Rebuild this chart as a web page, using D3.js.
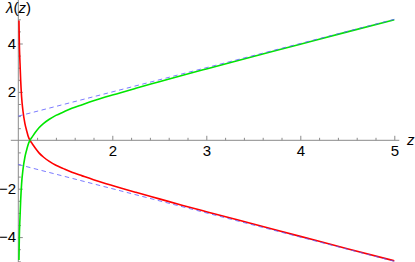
<!DOCTYPE html>
<html>
<head>
  <meta charset="utf-8">
  <title>lambda(z)</title>
  <style>
    body { margin: 0; background: white; }
    svg { display: block; font-family: "Liberation Sans", Arial, sans-serif; }
    .axis path { display: none; }
    .axis line { stroke: #8a8a8a; }
    .axis text { font-size: 15px; fill: black; }
    .curve { fill: none; stroke-width: 1.6; }
    .asym { fill: none; stroke: #5a5aff; stroke-width: 1; stroke-dasharray: 4.5,3.5; stroke-opacity: 0.8; }
  </style>
  <script src="https://d3js.org/d3.v7.min.js"></script>
</head>
<body>
  <div id="chart"></div>
  <script>
    // values
    const zValues = [1.007, 1.011, 1.018, 1.025, 1.035, 1.05, 1.07, 1.09, 1.105, 1.124,
                     1.15, 1.18, 1.22, 1.27, 1.33, 1.40, 1.48, 1.57, 1.68, 1.80,
                     2.0, 2.25, 2.5, 2.75, 3.0, 3.5, 4.0, 4.5, 5.0];
    const greenValues = [-4.95, -4.0, -3.2, -2.5, -1.8, -1.2, -0.7, -0.38, -0.17, 0,
                         0.15, 0.32, 0.52, 0.70, 0.87, 1.03, 1.17, 1.32, 1.47, 1.63,
                         1.87, 2.15, 2.42, 2.69, 2.95, 3.46, 3.97, 4.48, 4.98];
    const redValues = [4.95, 4.0, 3.2, 2.5, 1.8, 1.2, 0.7, 0.38, 0.17, 0,
                       -0.15, -0.32, -0.52, -0.70, -0.87, -1.03, -1.17, -1.32, -1.47, -1.63,
                       -1.87, -2.15, -2.42, -2.69, -2.95, -3.46, -3.97, -4.48, -4.98];
    const asymZ = [1, 5];
    const asymUpper = [1, 5];
    const asymLower = [-1, -5];
    const xTicks = [2, 3, 4, 5];
    const yTicks = [-4, -2, 2, 4];

    const width = 415;
    const height = 262;

    const x = d3.scaleLinear().domain([1, 5]).range([18.3, 394.3]);
    const y = d3.scaleLinear().domain([-5, 5]).range([261.3, 19.3]);

    const svg = d3.select("#chart")
      .append("svg")
      .attr("width", width)
      .attr("height", height);

    // axes
    svg.append("line")
      .attr("x1", x(1) - 7.5).attr("x2", x(5) + 5)
      .attr("y1", y(0)).attr("y2", y(0))
      .attr("stroke", "#8a8a8a");
    svg.append("line")
      .attr("x1", x(1)).attr("x2", x(1))
      .attr("y1", 0).attr("y2", height)
      .attr("stroke", "#8a8a8a");

    const xMinor = d3.range(1.2, 5.01, 0.2).filter(v => Math.abs(v - Math.round(v)) > 0.01);
    svg.append("g")
      .attr("class", "axis")
      .attr("transform", `translate(0,${y(0)})`)
      .call(d3.axisBottom(x).tickValues(xMinor).tickSize(-2.5).tickFormat(""));
    svg.append("g")
      .attr("class", "axis")
      .attr("transform", `translate(0,${y(0)})`)
      .call(d3.axisBottom(x).tickValues(xTicks).tickSize(-4.5).tickPadding(4.8).tickFormat(d3.format("d")));

    const yMinor = d3.range(-5, 5.01, 0.5).filter(v => v % 2 !== 0);
    svg.append("g")
      .attr("class", "axis")
      .attr("transform", `translate(${x(1)},0)`)
      .call(d3.axisLeft(y).tickValues(yMinor).tickSize(-2.5).tickFormat(""));
    svg.append("g")
      .attr("class", "axis")
      .attr("transform", `translate(${x(1)},0)`)
      .call(d3.axisLeft(y).tickValues(yTicks).tickSize(-4.5).tickPadding(2.3).tickFormat(d3.format("d")));

    // curves
    svg.append("clipPath").attr("id", "plot-clip")
      .append("rect").attr("x", 0).attr("y", 0).attr("width", width).attr("height", height);

    const line = d3.line()
      .x(d => x(d[0]))
      .y(d => y(d[1]))
      .curve(d3.curveMonotoneX);

    const plot = svg.append("g").attr("clip-path", "url(#plot-clip)");

    plot.append("path")
      .datum(zValues.map((z, i) => [z, redValues[i]]))
      .attr("class", "curve")
      .attr("stroke", "#ff0000")
      .attr("d", line);

    plot.append("path")
      .datum(zValues.map((z, i) => [z, greenValues[i]]))
      .attr("class", "curve")
      .attr("stroke", "#00e600")
      .attr("d", line);

    plot.append("path")
      .datum(asymZ.map((z, i) => [z, asymUpper[i]]))
      .attr("class", "asym")
      .attr("d", line);

    plot.append("path")
      .datum(asymZ.map((z, i) => [z, asymLower[i]]))
      .attr("class", "asym")
      .attr("d", line);

    // axis labels
    const yLabel = svg.append("text")
      .attr("x", 6).attr("y", 13)
      .style("font-size", "15px");
    yLabel.append("tspan").style("font-style", "italic").text("λ");
    yLabel.append("tspan").text("(");
    yLabel.append("tspan").style("font-style", "italic").text("z");
    yLabel.append("tspan").text(")");

    svg.append("text")
      .attr("x", 407).attr("y", 145)
      .style("font-size", "15px")
      .style("font-style", "italic")
      .text("z");
  </script>
</body>
</html>
